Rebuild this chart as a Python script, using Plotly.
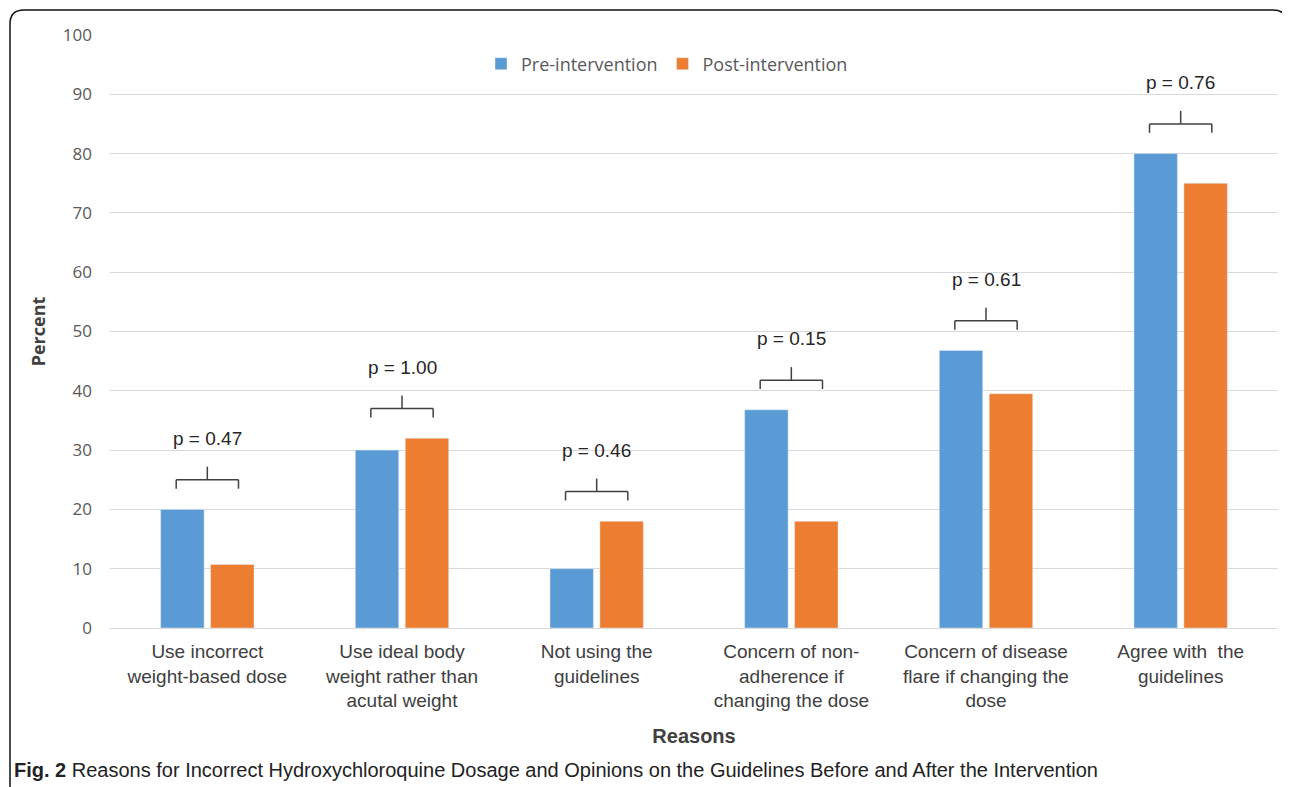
import plotly.graph_objects as go

categories = [
    "Use incorrect<br>weight-based dose",
    "Use ideal body<br>weight rather than<br>acutal weight",
    "Not using the<br>guidelines",
    "Concern of non-<br>adherence if<br>changing the dose",
    "Concern of disease<br>flare if changing the<br>dose",
    "Agree with  the<br>guidelines",
]
pre_values = [20, 30, 10, 36.8, 46.8, 80]
post_values = [10.7, 32, 18, 18, 39.5, 75]
p_labels = ["p = 0.47", "p = 1.00", "p = 0.46", "p = 0.15", "p = 0.61", "p = 0.76"]
y_ticks = [0, 10, 20, 30, 40, 50, 60, 70, 80, 90, 100]

W, H = 1290, 787
OFF = 8  # page body margin
PL, PR, PT, PB = 110, 1278, 35, 628  # plot area in screen pixels
ML, MT = PL - OFF, PT - OFF
MR = W - (PR - OFF)
MB = H - (PB - OFF)
PW, PH = PR - PL, PB - PT


def px_x(x):
    return (x - PL) / PW


def px_y(y):
    return (PB - y) / PH


idx = list(range(len(categories)))

fig = go.Figure()
fig.add_trace(go.Bar(x=idx, y=pre_values, name="Pre-intervention",
                     marker_color="#5B9BD5"))
fig.add_trace(go.Bar(x=idx, y=post_values, name="Post-intervention",
                     marker_color="#ED7D31"))

shapes = []
annotations = []
bc = "#404040"
for i, (a, b, lab) in enumerate(zip(pre_values, post_values, p_labels)):
    m = max(a, b)
    yb = m + 5
    hw = 0.16
    shapes += [
        dict(type="line", xref="x", yref="y", x0=i - hw, x1=i + hw, y0=yb, y1=yb,
             line=dict(color=bc, width=1.5)),
        dict(type="line", xref="x", yref="y", x0=i - hw, x1=i - hw, y0=yb, y1=yb - 1.5,
             line=dict(color=bc, width=1.5)),
        dict(type="line", xref="x", yref="y", x0=i + hw, x1=i + hw, y0=yb, y1=yb - 1.5,
             line=dict(color=bc, width=1.5)),
        dict(type="line", xref="x", yref="y", x0=i, x1=i, y0=yb, y1=yb + 2.2,
             line=dict(color=bc, width=1.5)),
    ]
    annotations.append(dict(x=i, y=m + 12, xref="x", yref="y", text=lab,
                            showarrow=False,
                            font=dict(family="Liberation Sans, Arial", size=19, color="#262626")))

# outer rounded frame
r = 14
x0, x1, y0, y1 = 10, 1287, 10, 805
path = (f"M {px_x(x0)},{px_y(y0 + r)} "
        f"Q {px_x(x0)},{px_y(y0)} {px_x(x0 + r)},{px_y(y0)} "
        f"L {px_x(x1 - r)},{px_y(y0)} "
        f"Q {px_x(x1)},{px_y(y0)} {px_x(x1)},{px_y(y0 + r)} "
        f"L {px_x(x1)},{px_y(y1)} L {px_x(x0)},{px_y(y1)} Z")
shapes.append(dict(type="path", xref="paper", yref="paper", path=path,
                   line=dict(color="#111111", width=1.5), layer="below"))

annotations.append(dict(x=px_x(12), y=px_y(770), xref="paper", yref="paper",
                        xanchor="left", yanchor="middle", showarrow=False,
                        text="<b>Fig. 2</b> Reasons for Incorrect Hydroxychloroquine Dosage and Opinions on the Guidelines Before and After the Intervention",
                        font=dict(family="Liberation Sans, Arial", size=20, color="#222222")))

fig.update_layout(
    width=W, height=H,
    margin=dict(l=ML, r=MR, t=MT, b=MB, autoexpand=False),
    paper_bgcolor="white", plot_bgcolor="white",
    barmode="group", bargap=0.487, bargroupgap=0.13,
    showlegend=True,
    legend=dict(orientation="h", x=px_x(667), y=px_y(64), xanchor="center", yanchor="middle",
                font=dict(family="Open Sans, Calibri, sans-serif", size=18, color="#595959"),
                itemwidth=30, traceorder="normal", bgcolor="rgba(0,0,0,0)"),
    shapes=shapes,
    annotations=annotations,
    xaxis=dict(
        tickmode="array", tickvals=idx, ticktext=categories, range=[-0.5, 5.5],
        showgrid=False, zeroline=False, showline=True, linecolor="#D9D9D9", linewidth=1,
        ticks="", ticklabelstandoff=6,
        tickfont=dict(family="Liberation Sans, Arial", size=19, color="#404040"),
        title=dict(text="<b>Reasons</b>", standoff=18,
                   font=dict(family="Liberation Sans, Arial", size=20, color="#404040")),
    ),
    yaxis=dict(
        range=[0, 100], tickvals=y_ticks, showgrid=True, gridcolor="#D9D9D9", gridwidth=1,
        zeroline=False, showline=False, ticks="", ticklabelstandoff=17,
        tickfont=dict(family="Open Sans, Calibri, sans-serif", size=17, color="#595959"),
        title=dict(text="<b>Percent</b>", standoff=12,
                   font=dict(family="Open Sans, Calibri, sans-serif", size=18, color="#404040")),
    ),
)

fig.write_html("out.html")
